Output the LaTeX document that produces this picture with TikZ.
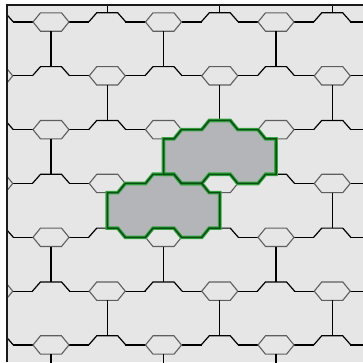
\documentclass[tikz,border=0pt]{standalone}
\definecolor{bgc}{HTML}{E6E6E6}
\definecolor{tilec}{HTML}{B4B5B9}
\definecolor{hexc}{HTML}{5E5E5E}
\definecolor{gouter}{HTML}{35A840}
\definecolor{ginner}{HTML}{0A4F14}
\definecolor{framec}{HTML}{1A1A1A}
\newcommand\tileshape[3]{\path[#3] (#1,#2+9.2) -- (#1+10.5,#2+9.2) -- (#1+18,#2) -- (#1+38.25,#2) -- (#1+45.75,#2-9.2) -- (#1+66.75,#2-9.2) -- (#1+74.25,#2) -- (#1+94.5,#2) -- (#1+102,#2+9.2) -- (#1+112.5,#2+9.2) -- (#1+112.5,#2+44.63) -- (#1+102,#2+44.63) -- (#1+94.5,#2+53.83) -- (#1+74.25,#2+53.83) -- (#1+66.75,#2+44.63) -- (#1+45.75,#2+44.63) -- (#1+38.25,#2+53.83) -- (#1+18,#2+53.83) -- (#1+10.5,#2+44.63) -- (#1,#2+44.63) -- cycle;}
\begin{document}
\begin{tikzpicture}[x=1pt,y=-1pt,line join=miter,
  blk/.style={draw=black,line width=1.2},
  hexl/.style={draw=hexc,line width=1.1},
  frameline/.style={draw=framec,line width=2.2}]
\useasboundingbox (0,0) rectangle (363,362);
\fill[white] (0,0) rectangle (363,362);
\fill[bgc] (7,5) rectangle (363,362);
\begin{scope}
\clip (7,5) rectangle (363,362);
\tileshape{163.5}{129.66}{fill=tilec}
\tileshape{107.25}{183.49}{fill=tilec}
\foreach \r in {1,...,7}{
  \foreach \j in {-2,...,6}{
    \pgfmathsetmacro\c{51+\j*56.25}
    \pgfmathsetmacro\y{22+(\r-1)*53.83}
    \pgfmathtruncatemacro\hx{mod(\r+\j+10,2)}
    \draw[blk] (\c+18,\y) -- (\c+38.25,\y);
    \ifnum\hx=1
      \draw[hexl] (\c-18,\y) -- (\c-10.5,\y-9.2) -- (\c+10.5,\y-9.2) -- (\c+18,\y) -- (\c+10.5,\y+9.2) -- (\c-10.5,\y+9.2) -- cycle;
      \draw[blk] (\c,\y+9.2) -- (\c,\y+44.63);
    \else
      \draw[blk] (\c-18.6,\y) -- (\c-10.5,\y-9.2) -- (\c+10.5,\y-9.2) -- (\c+18.6,\y);
      \ifnum\r=1
        \draw[blk] (\c,0) -- (\c,\y-9.2);
      \fi
    \fi
  }
}
\tileshape{163.5}{129.66}{draw=gouter,line width=3.6}
\tileshape{107.25}{183.49}{draw=gouter,line width=3.6}
\tileshape{163.5}{129.66}{draw=ginner,line width=1.5}
\tileshape{107.25}{183.49}{draw=ginner,line width=1.5}
\end{scope}
\draw[frameline] (7,362) -- (7,5) -- (363,5);
\end{tikzpicture}
\end{document}
